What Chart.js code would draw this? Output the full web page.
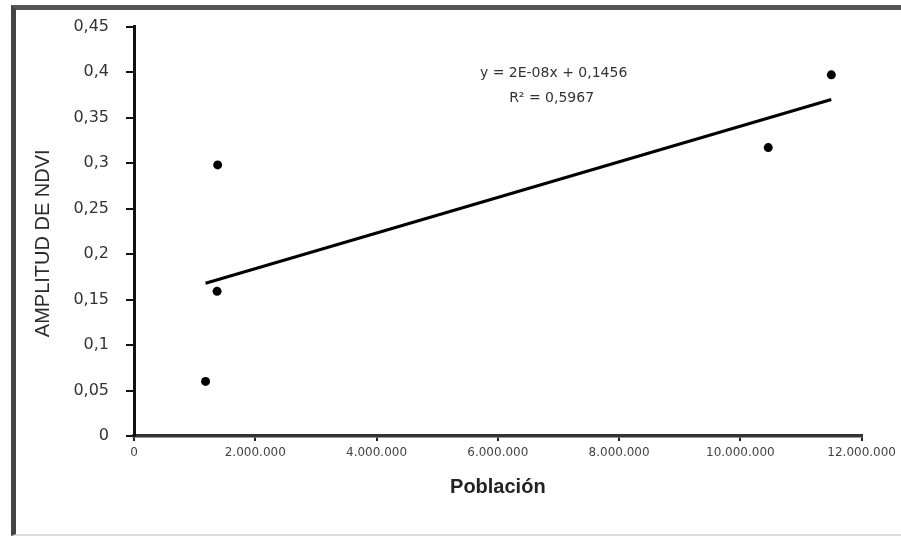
<!DOCTYPE html>
<html>
<head>
<meta charset="utf-8">
<script src="https://cdn.jsdelivr.net/npm/chart.js@4"></script>
<style>
  html, body { margin: 0; padding: 0; background: #fff; }
  #wrap { position: relative; width: 901px; height: 537px; overflow: hidden; background: #fff; }
  #wrap canvas { position: absolute; left: 0; top: 0; }
  /* scanned-page frame around the figure */
  #frame {
    position: absolute; left: 11px; top: 5px; right: -10px; bottom: 1px;
    border-top: 5px solid #555; border-left: 5px solid #444; border-bottom: 2px solid #dcdcdc;
    pointer-events: none;
  }
</style>
</head>
<body>
<div id="wrap">
  <canvas id="chart" width="901" height="537"></canvas>
  <div id="frame"></div>
</div>
<script>
// Population of each city and its NDVI amplitude
const poblacion = [1180000, 1370000, 1380000, 10460000, 11500000];
const amplitudNdvi = [0.060, 0.159, 0.298, 0.317, 0.397];

const xTickLabels = ['0', '2.000.000', '4.000.000', '6.000.000', '8.000.000', '10.000.000', '12.000.000'];
const yTickLabels = ['0', '0,05', '0,1', '0,15', '0,2', '0,25', '0,3', '0,35', '0,4', '0,45'];

const xTitle = 'Población';
const yTitle = 'AMPLITUD DE NDVI';
const equationLines = ['y = 2E-08x + 0,1456', 'R² = 0,5967'];

// Least-squares linear trend through the points
function linearFit(xs, ys) {
  const n = xs.length;
  const mx = xs.reduce((a, b) => a + b, 0) / n;
  const my = ys.reduce((a, b) => a + b, 0) / n;
  let sxy = 0, sxx = 0;
  for (let i = 0; i < n; i++) {
    sxy += (xs[i] - mx) * (ys[i] - my);
    sxx += (xs[i] - mx) * (xs[i] - mx);
  }
  const slope = sxy / sxx;
  return { slope, intercept: my - slope * mx };
}
const fit = linearFit(poblacion, amplitudNdvi);
const xMin = Math.min(...poblacion), xMax = Math.max(...poblacion);
const trendPoints = [xMin, xMax].map(x => ({ x, y: fit.intercept + fit.slope * x }));

const points = poblacion.map((x, i) => ({ x, y: amplitudNdvi[i] }));

// Rotated y-axis title and the trendline equation
const annotations = {
  id: 'annotations',
  afterDraw(chart) {
    const { ctx, chartArea, scales } = chart;
    ctx.save();
    ctx.fillStyle = '#2a2a2a';
    ctx.font = '20px "Liberation Sans", Arial, sans-serif';
    ctx.textAlign = 'center';
    ctx.textBaseline = 'middle';
    ctx.translate(43, (chartArea.top + chartArea.bottom) / 2 + 12);
    ctx.rotate(-Math.PI / 2);
    ctx.fillText(yTitle, 0, 0);
    ctx.restore();

    ctx.save();
    ctx.fillStyle = '#333';
    ctx.font = '14px "DejaVu Sans", sans-serif';
    ctx.textAlign = 'center';
    ctx.textBaseline = 'middle';
    const ex = scales.x.getPixelForValue(6920000);
    const ey = scales.y.getPixelForValue(0.399);
    ctx.fillText(equationLines[0], ex, ey);
    ctx.fillText(equationLines[1], ex - 2, ey + 25);
    ctx.restore();
  }
};

new Chart(document.getElementById('chart'), {
  type: 'scatter',
  data: {
    datasets: [
      {
        label: 'Amplitud de NDVI',
        data: points,
        backgroundColor: '#000',
        borderColor: '#000',
        borderWidth: 0,
        pointRadius: 4.5,
        pointHoverRadius: 4.5
      },
      {
        type: 'line',
        label: 'Tendencia lineal',
        data: trendPoints,
        borderColor: '#000',
        borderWidth: 3,
        pointRadius: 0,
        fill: false,
        showLine: true
      }
    ]
  },
  options: {
    responsive: false,
    animation: false,
    layout: { padding: { left: 0, top: 25, right: 37, bottom: 0 } },
    plugins: {
      legend: { display: false },
      tooltip: { enabled: false }
    },
    scales: {
      x: {
        type: 'linear',
        min: 0,
        max: 12000000,
        afterFit(scale) { scale.height = 101; },
        ticks: {
          stepSize: 2000000,
          padding: 5,
          color: '#444',
          font: { family: '"DejaVu Sans", sans-serif', size: 12 },
          callback: (v, i) => xTickLabels[i]
        },
        grid: {
          display: true,
          drawOnChartArea: false,
          drawTicks: true,
          tickLength: 5,
          color: '#222',
          lineWidth: 2
        },
        border: { display: true, color: '#333', width: 3.5 },
        title: {
          display: true,
          text: xTitle,
          color: '#222',
          font: { family: '"Liberation Sans", Arial, sans-serif', size: 20, weight: 'bold' },
          padding: { top: 0, bottom: 38 }
        }
      },
      y: {
        type: 'linear',
        min: 0,
        max: 0.45,
        afterFit(scale) { scale.width = 134; },
        ticks: {
          stepSize: 0.05,
          padding: 17,
          color: '#333',
          font: { family: '"DejaVu Sans", sans-serif', size: 16 },
          callback: (v, i) => yTickLabels[i]
        },
        grid: {
          display: true,
          drawOnChartArea: false,
          drawTicks: true,
          tickLength: 8,
          color: '#111',
          lineWidth: 2
        },
        border: { display: true, color: '#111', width: 3 }
      }
    }
  },
  plugins: [annotations]
});
</script>
</body>
</html>
